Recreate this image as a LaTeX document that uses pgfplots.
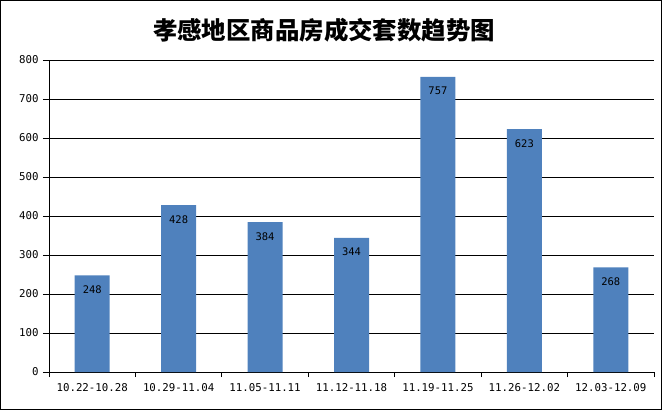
\documentclass[border=0pt]{standalone}
\usepackage{pgfplots}
\pgfplotsset{compat=1.18}
\usepackage{fontspec}
\setmainfont{DejaVu Sans Mono}
\newfontfamily\cjk{Noto Sans CJK SC}
\definecolor{barblue}{RGB}{79,129,189}
\begin{document}
\begin{tikzpicture}[x=1bp,y=1bp]
\useasboundingbox (-49,-38) rectangle (613,372);
\draw[black, line width=1bp] (-48.5,-37.5) rectangle (612.5,371.5);
\node[font=\cjk\bfseries\fontsize{24.5}{26}\selectfont] at (275,342) {孝感地区商品房成交套数趋势图};
\begin{axis}[
  at={(0,0)}, anchor=south west,
  scale only axis, width=605bp, height=312bp,
  ymin=0, ymax=800, ytick={0,100,...,800},
  xmin=-0.5, xmax=6.5,
  xtick={0,...,6},
  xticklabels={10.22-10.28,10.29-11.04,11.05-11.11,11.12-11.18,11.19-11.25,11.26-12.02,12.03-12.09},
  minor xtick={-0.5,0.5,...,6.5},
  major x tick style={draw=none},
  axis x line=bottom, axis y line=left,
  axis line style={-, black, line width=0.8bp},
  tick align=outside,
  major tick length=6bp, minor tick length=5bp,
  tick style={black, line width=0.8bp},
  ymajorgrids, grid style={black, line width=0.8bp},
  tick label style={font=\fontsize{10.8}{12}\selectfont},
  /pgf/number format/assume math mode=true,
  xticklabel style={yshift=-2bp},
  yticklabel style={xshift=-1bp},
  ybar, bar width=35bp,
  nodes near coords,
  every node near coord/.append style={anchor=north, yshift=-10bp, inner sep=0pt, font=\fontsize{10.5}{12}\selectfont, black},
]
\addplot[fill=barblue, draw=none] coordinates {(0,248) (1,428) (2,384) (3,344) (4,757) (5,623) (6,268)};
\end{axis}
\end{tikzpicture}
\end{document}
